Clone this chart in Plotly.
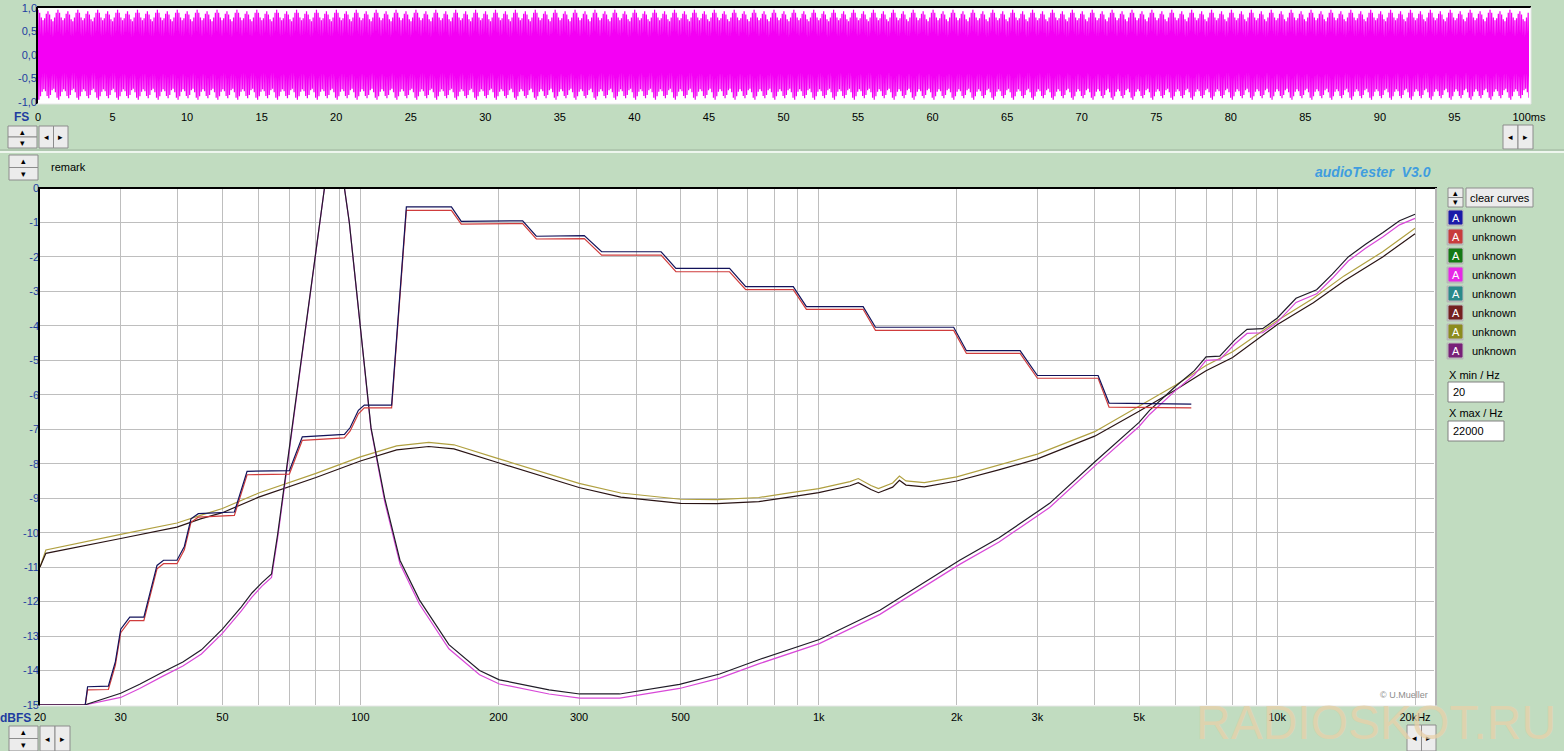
import math
import plotly.graph_objects as go

W, H = 1564, 751

# ---------------- data ----------------
# stepped curve (blue / red)
step_f = [20, 25.1, 25.4, 28.2, 29.2, 30.0, 31.4, 33.7, 34.6, 36.0, 37.2, 39.8, 41.3, 42.7, 44.3,
          53.1, 56.6, 70.0, 74.7, 92.3, 95, 99, 102, 117, 126, 158, 166, 226, 242, 308, 336, 453,
          488, 639, 693, 880, 940, 1250, 1330, 1970, 2100, 2750, 3000, 4070, 4300, 6500]
step_blue = [-15, -15, -14.47, -14.45, -13.75, -12.8, -12.45, -12.45, -11.85, -10.95, -10.8, -10.8,
             -10.4, -9.6, -9.45, -9.4, -8.22, -8.2, -7.22, -7.15, -6.95, -6.45, -6.3, -6.3, -0.55,
             -0.55, -0.97, -0.95, -1.40, -1.38, -1.85, -1.85, -2.33, -2.33, -2.86, -2.86, -3.44,
             -3.44, -4.04, -4.04, -4.72, -4.72, -5.44, -5.44, -6.24, -6.27]
step_red = [-15, -15, -14.56, -14.55, -13.85, -12.9, -12.55, -12.55, -11.95, -11.05, -10.9, -10.9,
            -10.5, -9.7, -9.55, -9.5, -8.32, -8.3, -7.32, -7.25, -7.05, -6.55, -6.38, -6.38, -0.65,
            -0.65, -1.05, -1.03, -1.48, -1.47, -1.95, -1.95, -2.43, -2.43, -2.95, -2.95, -3.52,
            -3.52, -4.13, -4.13, -4.80, -4.80, -5.52, -5.52, -6.36, -6.38]

# broad curve (dark / olive)
broad_f = [20, 20.6, 30, 39.8, 44.8, 50, 60, 70, 80, 100, 120, 141, 160, 200, 250, 300, 370, 500,
           600, 740, 870, 1000, 1170, 1220, 1300, 1350, 1450, 1500, 1550, 1700, 2000, 2470, 3000,
           4000, 5000, 6000, 7000, 8000, 10000, 12000, 14000, 17000, 20000]
broad_olive = [-11.0, -10.5, -10.05, -9.72, -9.5, -9.3, -8.85, -8.55, -8.28, -7.8, -7.48, -7.38,
               -7.45, -7.85, -8.25, -8.57, -8.85, -9.03, -9.04, -8.98, -8.84, -8.72, -8.52, -8.43,
               -8.63, -8.72, -8.56, -8.36, -8.5, -8.55, -8.38, -8.04, -7.72, -7.07, -6.34, -5.72,
               -5.15, -4.75, -3.85, -3.2, -2.55, -1.85, -1.17]
broad_dark = [-11.0, -10.6, -10.17, -9.84, -9.6, -9.42, -8.97, -8.67, -8.4, -7.92, -7.6, -7.5,
              -7.57, -7.97, -8.37, -8.69, -8.97, -9.15, -9.16, -9.1, -8.96, -8.84, -8.64, -8.55,
              -8.75, -8.84, -8.68, -8.48, -8.62, -8.67, -8.5, -8.18, -7.86, -7.2, -6.48, -5.86,
              -5.3, -4.92, -3.97, -3.33, -2.7, -2.0, -1.33]

# resonance curve (dark / magenta)
peak_f = [20, 25, 30, 33, 37, 41, 45, 50, 55, 58, 61, 64, 66, 71, 83.5, 92.3, 94.6, 105.5, 113,
          122, 134.5, 156, 182, 201, 258, 301, 368, 497, 608, 742, 1003, 1360, 2030, 2475, 3190,
          4000, 5000, 5270, 6000, 6600, 7000, 7500, 8100, 8600, 9300, 10000, 11000, 12200, 13200,
          14300, 15600, 17000, 18500, 20000]
peak_dark = [-15, -15, -14.66, -14.4, -14.05, -13.75, -13.4, -12.8, -12.15, -11.75, -11.45, -11.2,
             -10.05, -6.96, 0, 0, -1.0, -6.96, -9.0, -10.8, -11.95, -13.25, -14.0, -14.27, -14.56,
             -14.68, -14.68, -14.4, -14.1, -13.68, -13.1, -12.25, -10.8, -10.15, -9.15, -7.95,
             -6.8, -6.45, -5.76, -5.3, -4.9, -4.88, -4.4, -4.1, -4.08, -3.78, -3.2, -2.95, -2.5,
             -2.0, -1.63, -1.3, -0.95, -0.76]
peak_magenta = [-15, -15, -14.78, -14.52, -14.17, -13.87, -13.52, -12.92, -12.27, -11.87, -11.55,
                -11.3, -10.15, -7.0, 0, 0, -1.0, -7.0, -9.1, -10.9, -12.07, -13.37, -14.12, -14.39,
                -14.68, -14.8, -14.8, -14.52, -14.22, -13.8, -13.22, -12.37, -10.92, -10.27, -9.27,
                -8.07, -6.92, -6.57, -5.88, -5.42, -5.0, -4.98, -4.52, -4.22, -4.2, -3.9, -3.32,
                -3.07, -2.62, -2.12, -1.75, -1.42, -1.07, -0.88]

# waveform envelope pattern (peak values, repeating)
wave_pos = [0.96, 0.90, 0.80, 0.74, 0.78, 0.88, 0.93, 0.86, 0.76, 0.72, 0.80, 0.90]
wave_neg = [-0.95, -0.88, -0.78, -0.73, -0.77, -0.87, -0.92, -0.85, -0.75, -0.72, -0.79, -0.91]
wave_len_ms = 100.0

freq_grid = [20, 30, 40, 50, 60, 70, 80, 90, 100, 200, 300, 400, 500, 600, 700, 800, 900,
             1000, 2000, 3000, 4000, 5000, 6000, 7000, 8000, 9000, 10000, 20000]
freq_labels = {20: "20", 30: "30", 50: "50", 100: "100", 200: "200", 300: "300", 500: "500",
               1000: "1k", 2000: "2k", 3000: "3k", 5000: "5k", 10000: "10k", 20000: "20kHz"}
db_ticks = list(range(-15, 1))
ms_ticks = list(range(0, 101, 5))
amp_ticks = [-1.0, -0.5, 0.0, 0.5, 1.0]
amp_labels = ["-1,0", "-0,5", "0,0", "0,5", "1,0"]

legend_colors = ["#1a1aa8", "#c83c3c", "#147a14", "#e628e6", "#2a8a8a", "#742020", "#8c8c1e", "#782078"]

# ---------------- helpers ----------------
def px(x):
    return x / W

def py(y):
    return 1 - y / H

BG = "#c1dcc0"
FONT = "Arial, Liberation Sans, sans-serif"
shapes = []
annotations = []

def rect(x0, y0, x1, y1, fill, line="#8c8c8c", lw=1, layer="above"):
    shapes.append(dict(type="rect", xref="paper", yref="paper", x0=px(x0), x1=px(x1),
                       y0=py(y1), y1=py(y0), fillcolor=fill,
                       line=dict(color=line, width=lw), layer=layer))

def hline(x0, x1, y, color, w=1):
    shapes.append(dict(type="line", xref="paper", yref="paper", x0=px(x0), x1=px(x1),
                       y0=py(y), y1=py(y), line=dict(color=color, width=w), layer="above"))

def vline(x, y0, y1, color, w=1):
    shapes.append(dict(type="line", xref="paper", yref="paper", x0=px(x), x1=px(x),
                       y0=py(y0), y1=py(y1), line=dict(color=color, width=w), layer="above"))

def text(x, y, s, size=11, color="black", xanchor="left", yanchor="middle", family=FONT, **kw):
    annotations.append(dict(x=px(x), y=py(y), xref="paper", yref="paper", text=s,
                            showarrow=False, xanchor=xanchor, yanchor=yanchor,
                            font=dict(size=size, color=color, family=family), **kw))

def spin(x0, y0, x1, y1):
    ym = (y0 + y1) / 2
    rect(x0, y0, x1, ym, "#ececec")
    rect(x0, ym, x1, y1, "#ececec")
    text((x0 + x1) / 2, (y0 + ym) / 2, "▴", size=9, xanchor="center")
    text((x0 + x1) / 2, (ym + y1) / 2, "▾", size=9, xanchor="center")

def arrows(x0, y0, x1, y1):
    xm = (x0 + x1) / 2
    rect(x0, y0, xm, y1, "#ececec")
    rect(xm, y0, x1, y1, "#ececec")
    text((x0 + xm) / 2, (y0 + y1) / 2, "◂", size=9, xanchor="center")
    text((xm + x1) / 2, (y0 + y1) / 2, "▸", size=9, xanchor="center")

# ---------------- figure ----------------
fig = go.Figure()

# waveform trace
n_vert = 1800
step = wave_len_ms / (n_vert - 1)
wt, wy = [], []
for i in range(n_vert):
    wt.append(i * step)
    k = (i // 2) % len(wave_pos)
    wy.append(wave_pos[k] if i % 2 == 0 else wave_neg[k])
fig.add_trace(go.Scatter(x=wt, y=wy, mode="lines", line=dict(color="#f400f4", width=1.25),
                         xaxis="x2", yaxis="y2", hoverinfo="skip"))

def curve(f, v, color, w=1.2):
    fig.add_trace(go.Scatter(x=f, y=v, mode="lines", line=dict(color=color, width=w),
                             xaxis="x", yaxis="y", hoverinfo="skip"))

curve(broad_f, broad_olive, "#b0a040")
curve(broad_f, broad_dark, "#2a1414")
curve(peak_f, peak_magenta, "#d848d8")
curve(peak_f, peak_dark, "#201c28")
curve(step_f, step_red, "#d03c3c")
curve(step_f, step_blue, "#12125a")

# ---------------- decorations ----------------
# waveform panel
rect(37, 7, 1531, 104, "white", line="white", lw=0, layer="below")
hline(37, 1531, 7, "black", 2)
vline(37, 7, 104, "black", 2)
hline(37, 1531, 104, "#e6e6e6", 1)
vline(1531, 7, 104, "#e6e6e6", 1)
text(31, 117, "<b>FS</b>", size=12, color="#1e3ca0", xanchor="right")
spin(8, 126, 37, 148)
arrows(39, 126, 68, 148)
arrows(1503, 125, 1533, 149)

# separator
hline(0, W, 150, "#9fb49f", 1)
hline(0, W, 152, "#eef6ee", 2)

# remark row
spin(9, 155, 38, 180)
text(49, 167, "remark", size=11)
text(1433, 172, "<b><i>audioTester  V3.0</i></b>", size=14, color="#3f9ddf", xanchor="right")

# main panel
rect(38, 188, 1437, 706, "white", line="white", lw=0, layer="below")
hline(38, 1437, 188, "black", 2)
vline(39, 188, 706, "black", 2)
vline(1436, 188, 706, "#b4b4b4", 2)
hline(38, 1437, 706, "#e6e6e6", 1)
text(1430, 695, "© U.Mueller", size=9, color="#8c8c8c", xanchor="right")
text(33, 718, "<b>dBFS</b>", size=12, color="#1e3ca0", xanchor="right")
spin(9, 726, 38, 751)
arrows(40, 726, 70, 751)
arrows(1407, 725, 1436, 751)

# watermark
text(1376, 722, "RADIOSKOT.RU", size=48, color="rgba(232,208,168,0.75)", xanchor="center",
     family="Liberation Sans Narrow, Arial Narrow, Liberation Sans, sans-serif")

# right panel
spin(1448, 188, 1463, 207)
rect(1466, 188, 1533, 207, "#ececec")
text(1499.5, 198, "clear curves", size=11, xanchor="center")
for i, c in enumerate(legend_colors):
    yc = 218 + i * 19
    rect(1447, yc - 8, 1463, yc + 8, "#b8b8b8", line="#b8b8b8")
    rect(1449, yc - 7, 1462, yc + 6, c, line=c)
    text(1455.5, yc, "A", size=11, color="white", xanchor="center")
    text(1470, yc, "unknown", size=11)
text(1447, 375, "X min / Hz", size=11)
rect(1448, 382, 1504, 402, "white", line="#808080")
text(1451, 392, "20", size=11)
text(1447, 413, "X max / Hz", size=11)
rect(1448, 421, 1504, 441, "white", line="#808080")
text(1451, 431, "22000", size=11)

fig.update_layout(
    width=W, height=H, autosize=False,
    margin=dict(l=0, r=0, t=0, b=0, pad=0),
    paper_bgcolor=BG, plot_bgcolor="white",
    showlegend=False,
    font=dict(family=FONT, size=11, color="black"),
    shapes=shapes, annotations=annotations,
    xaxis=dict(domain=[px(40), px(1434)], type="log",
               range=[math.log10(20), math.log10(22000)],
               tickvals=freq_grid, ticktext=[freq_labels.get(v, "") for v in freq_grid],
               showgrid=True, gridcolor="#bebebe", gridwidth=1, zeroline=False,
               showline=False, ticks="", tickfont=dict(size=11, color="black"),
               ticklabelstandoff=4,
               anchor="y", fixedrange=True, automargin=False),
    yaxis=dict(domain=[py(705), py(188)], range=[-15, 0], tickvals=db_ticks,
               ticktext=[str(v) for v in db_ticks], showgrid=True, gridcolor="#bebebe",
               gridwidth=1, zeroline=False, showline=False, ticks="",
               tickfont=dict(size=11, color="#1e3ca0"), anchor="x", fixedrange=True,
               automargin=False),
    xaxis2=dict(domain=[px(38), px(1529)], range=[0, 100], tickvals=ms_ticks,
                ticktext=[str(v) if v < 100 else "100ms" for v in ms_ticks],
                showgrid=False, zeroline=False, showline=False, ticks="",
                tickfont=dict(size=11, color="black"), ticklabelstandoff=7,
                anchor="y2", fixedrange=True, automargin=False),
    yaxis2=dict(domain=[py(102), py(8)], range=[-1, 1], tickvals=amp_ticks, ticktext=amp_labels,
                showgrid=False, zeroline=False, showline=False, ticks="",
                tickfont=dict(size=11, color="#1e3ca0"), anchor="x2", fixedrange=True,
                automargin=False),
)

# remove the default page margin while the page is parsed (and again after plotting)
page_fix = ("document.body.style.margin='0px';document.body.style.overflow='hidden';"
            "document.body.style.background='" + BG + "';")
post = "}); " + page_fix + " (function(){ " + page_fix

fig.write_html("out.html", config={"displayModeBar": False}, post_script=post)
